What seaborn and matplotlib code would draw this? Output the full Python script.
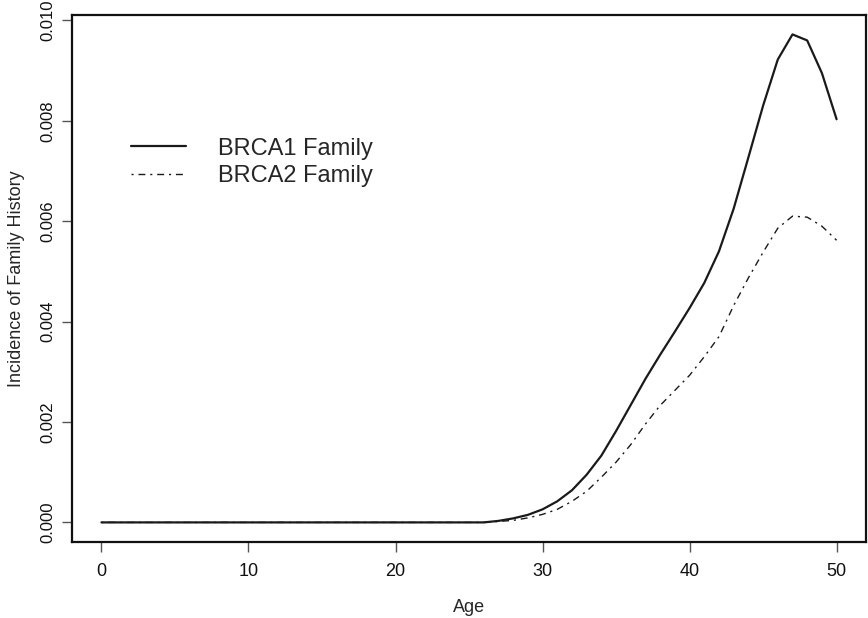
import numpy as np
import pandas as pd
import seaborn as sns
import matplotlib.pyplot as plt

# Ages 0..50 and incidence values (units of 1e-3)
ages = list(range(0, 51))
brca1_tail = [0.03, 0.08, 0.15, 0.26, 0.42, 0.64, 0.95, 1.33, 1.82, 2.34,
              2.86, 3.34, 3.80, 4.27, 4.77, 5.40, 6.25, 7.27, 8.30, 9.22,
              9.72, 9.60, 8.95, 8.03]
brca2_tail = [0.02, 0.04, 0.09, 0.16, 0.26, 0.42, 0.62, 0.90, 1.20, 1.55,
              1.96, 2.33, 2.63, 2.93, 3.30, 3.70, 4.32, 4.87, 5.38, 5.86,
              6.10, 6.08, 5.90, 5.62]
brca1 = [0.0] * 27 + brca1_tail
brca2 = [0.0] * 27 + brca2_tail

df = pd.DataFrame({
    "Age": ages * 2,
    "Incidence": np.array(brca1 + brca2) / 1000,
    "Family": ["BRCA1 Family"] * len(ages) + ["BRCA2 Family"] * len(ages),
})

sns.set_style("ticks")
plt.rcParams["font.family"] = ["Liberation Sans", "DejaVu Sans"]

fig = plt.figure(figsize=(8.68, 6.18), dpi=100)
ax = fig.add_axes([0.083, 0.123, 0.9147, 0.853])

sns.lineplot(
    data=df, x="Age", y="Incidence", style="Family", ax=ax,
    color="#1a1a1a",
    dashes={"BRCA1 Family": "", "BRCA2 Family": (1.5, 3.5, 5, 3.5)},
    size="Family", sizes={"BRCA1 Family": 1.6, "BRCA2 Family": 1.0},
)

ax.set_xlim(-2, 52)
ax.set_ylim(-0.00039, 0.01011)
ax.set_xticks([0, 10, 20, 30, 40, 50])
ax.set_yticks([0, 0.002, 0.004, 0.006, 0.008, 0.010])
ax.set_yticklabels([f"{v:.3f}" for v in ax.get_yticks()])
for lab in ax.get_yticklabels():
    lab.set_rotation(90)
    lab.set_va("center")

ax.tick_params(axis="both", length=7, width=1,
               color="#555555", labelcolor="#111111")
ax.tick_params(axis="x", pad=8, labelsize=13)
ax.tick_params(axis="y", pad=5, labelsize=12)
for sp in ax.spines.values():
    sp.set_visible(True)
    sp.set_linewidth(1.6)
    sp.set_color("#111111")

ax.set_xlabel("Age", fontsize=13, labelpad=14)
ax.set_ylabel("Incidence of Family History", fontsize=13, labelpad=11)

leg = ax.legend(
    loc="upper left", bbox_to_anchor=(0.074, 0.767), frameon=False,
    fontsize=17, handlelength=2.33, handletextpad=1.36,
    labelspacing=0.24, borderpad=0, borderaxespad=0,
)

plt.savefig("out.png", dpi=100)
